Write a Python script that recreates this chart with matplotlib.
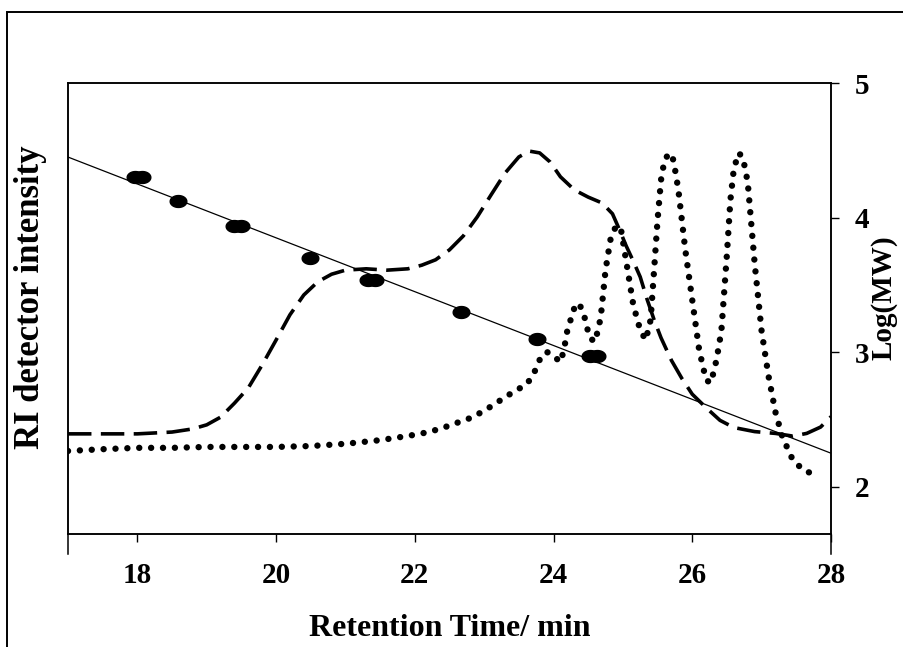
import matplotlib.pyplot as plt
from matplotlib.patches import Rectangle
from matplotlib.path import Path
import numpy as np

# GPC traces: RI detector response (arbitrary units) vs retention time
rt_a = [17.0, 18.0, 18.5, 18.8, 19.0, 19.2, 19.4, 19.6, 19.8, 20.0, 20.2, 20.4,
        20.6, 20.8, 21.0, 21.3, 21.6, 21.9, 22.1, 22.3, 22.5, 22.7, 22.9, 23.1,
        23.3, 23.5, 23.65, 23.8, 23.95, 24.1, 24.3, 24.5, 24.7, 24.85, 24.95,
        25.05, 25.15, 25.25, 25.35, 25.45, 25.55, 25.7, 25.85, 26.0, 26.2, 26.4,
        26.6, 26.9, 27.2, 27.45, 27.65, 27.85, 28.0]
ri_a = [22.2, 22.2, 22.6, 23.3, 24.2, 25.9, 29.0, 32.4, 37.5, 43.0, 48.6, 53.0,
        55.9, 57.6, 58.5, 58.8, 58.5, 58.8, 59.6, 60.8, 63.0, 66.1, 70.3, 75.2,
        80.0, 83.6, 84.9, 84.5, 82.5, 79.2, 76.3, 74.7, 73.4, 71.0, 67.5,
        63.8, 60.5, 57.0, 52.0, 47.5, 43.5, 38.5, 34.5, 31.0, 28.0, 25.2,
        23.6, 22.7, 22.3, 21.7, 22.3, 23.7, 26.0]

rt_b = [17.0, 17.5, 18.0, 18.5, 19.0, 19.5, 20.0, 20.5, 21.0, 21.5, 21.8, 22.0,
        22.2, 22.4, 22.6, 22.8, 23.0, 23.2, 23.35, 23.5, 23.6, 23.7, 23.8, 23.9,
        24.0, 24.1, 24.15, 24.2, 24.3, 24.37, 24.45, 24.52, 24.6, 24.68, 24.75,
        24.82, 24.9, 24.97, 25.05, 25.15, 25.25, 25.33, 25.4, 25.45, 25.5, 25.55,
        25.6, 25.67, 25.73, 25.8, 25.9, 26.0, 26.1, 26.2, 26.27, 26.35, 26.42,
        26.5, 26.55, 26.6, 26.67, 26.73, 26.8, 26.9, 27.0, 27.1, 27.2, 27.3,
        27.45, 27.6, 27.8]
ri_b = [18.4, 18.8, 19.1, 19.1, 19.3, 19.3, 19.3, 19.5, 20.0, 20.8, 21.5, 22.0,
        22.6, 23.5, 24.6, 25.7, 27.3, 29.3, 30.8, 32.2, 33.0, 35.0, 38.6, 40.4,
        39.5, 38.1, 40.8, 45.2, 50.1, 51.2, 47.9, 43.5, 42.6, 47.9, 58.5,
        65.2, 68.3, 67.8, 60.3, 50.8, 45.2, 43.0, 47.5, 58.5, 69.6, 78.5,
        82.9, 84.5, 82.9, 76.3, 63.0, 51.9, 40.8, 34.1, 33.5, 38.6, 45.0,
        62.0, 74.0, 81.0, 84.5, 83.5, 78.0, 60.0, 45.0, 35.0, 27.0, 21.5,
        16.4, 14.2, 12.9]

# calibration standards and linear fit
cal_rt = [17.97, 18.07, 18.59, 19.40, 19.50, 20.49, 21.33, 21.43, 22.67, 23.76,
          24.53, 24.63]
cal_logmw = [4.30, 4.30, 4.12, 3.94, 3.94, 3.70, 3.54, 3.54, 3.30, 3.10,
             2.97, 2.97]
fit_rt = [17.0, 28.0]
fit_logmw = [4.45, 2.25]

xticks = [18, 20, 22, 24, 26, 28]
yticks_mw = [2, 3, 4, 5]

font = dict(family='Liberation Serif', weight='bold')

fig = plt.figure(figsize=(9.04, 6.47), dpi=100)
ax = fig.add_axes([0.0752, 0.1747, 0.8440, 0.6970])

ax.plot(rt_a, ri_a, color='black', lw=2.6, linestyle=(0, (6.5, 2.6)))
ax.plot(rt_b, ri_b, color='black', lw=4.6, linestyle=(0, (0.01, 1.85)),
        dash_capstyle='round')
ax.set_xlim(17, 28)
ax.set_ylim(0, 100)
ax.set_yticks([])
ax.tick_params(axis='x', direction='out', length=6, width=1, pad=14)
ax.set_xticks(xticks)
ax.set_xticklabels([str(t) for t in xticks], fontsize=21, **font)
ax.set_xlabel('Retention Time/ min', fontsize=23, labelpad=18, **font)
ax.set_ylabel('RI detector intensity', fontsize=25, **font)
ax.yaxis.set_label_coords(-0.027, 0.525)

# elliptical marker for the standards
t = np.linspace(0, 2 * np.pi, 40)
ellipse = Path(np.column_stack([1.4 * np.cos(t), np.sin(t)]), closed=True)

ax2 = ax.twinx()
ax2.plot(fit_rt, fit_logmw, color='black', lw=0.9)
ax2.plot(cal_rt, cal_logmw, linestyle='none', marker=ellipse, markersize=12,
         color='black')
ax2.set_ylim(1.65, 5.0)
ax2.yaxis.set_tick_params(direction='out', length=6, width=1, pad=11)
ax2.set_yticks(yticks_mw)
ax2.set_yticklabels([str(t) for t in yticks_mw], fontsize=21, **font)
ax2.set_ylabel('Log(MW)', fontsize=21, **font)
ax2.yaxis.set_label_coords(1.052, 0.523)

for a in (ax, ax2):
    for s in a.spines.values():
        s.set_linewidth(1.1)

# side axis lines run a little below the time axis
for xa in (0, 1):
    ax.plot([xa, xa], [0, -0.045], transform=ax.transAxes, color='black',
            lw=1.1, clip_on=False)

fig.add_artist(Rectangle((0.0075, -0.1), 2, 1.0815, transform=fig.transFigure,
                         fill=False, lw=1.4, color='black'))

fig.savefig('out.png', dpi=100)
